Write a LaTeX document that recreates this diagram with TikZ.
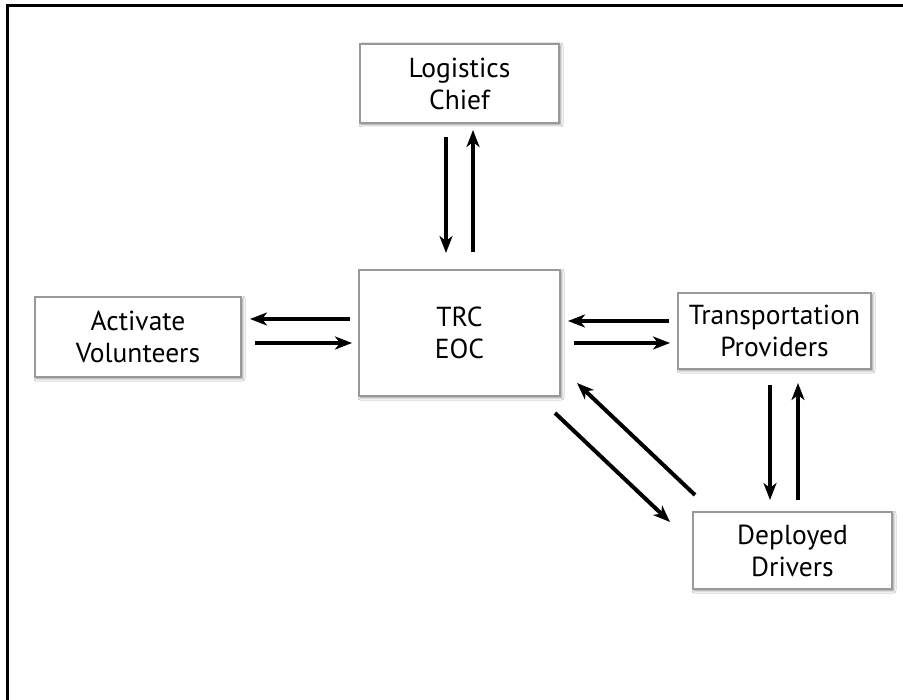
\documentclass[tikz,border=0pt]{standalone}
\usepackage{fontspec}
\setmainfont{PT Sans}
\usetikzlibrary{arrows.meta,shadows.blur}

\tikzset{
  box/.style={draw=gray!80, line width=1.2pt, fill=white, outer sep=0pt,
    inner sep=0pt, align=center, font=\fontsize{27.5}{32}\selectfont,
    blur shadow={shadow xshift=1.5pt, shadow yshift=-1.5pt,
      shadow blur radius=2.5pt, shadow opacity=50}},
  flow/.style={line width=4pt, -{Stealth[length=17pt,width=13pt,inset=5pt]}},
  frame/.style={line width=3pt}
}

\begin{document}
\begin{tikzpicture}[x=1pt,y=-1pt]
  \useasboundingbox (0,0) rectangle (903,700);
  \fill[white] (0,0) rectangle (903,700);

  % outer frame (top and left edges)
  \draw[frame] (903,6) -- (7,6) -- (7,700);

  % boxes
  \node[box, minimum width=199pt, minimum height=79pt]  (log) at (459.5,83.5) {Logistics\\Chief};
  \node[box, minimum width=201pt, minimum height=126pt] (trc) at (459.5,333) {TRC\\EOC};
  \node[box, minimum width=206pt, minimum height=80pt]  (act) at (138,337)   {Activate\\Volunteers};
  \node[box, minimum width=193pt, minimum height=76pt]  (trp) at (774.5,331) {Transportation\\Providers};
  \node[box, minimum width=199pt, minimum height=77pt]  (dep) at (792.5,550.5) {Deployed\\Drivers};

  % Logistics Chief <-> TRC EOC
  \draw[flow] ([xshift=-13.5pt,yshift=-14pt]log.south) -- ([xshift=-13.5pt,yshift=17pt]trc.north);
  \draw[flow] ([xshift=13.5pt,yshift=18pt]trc.north) -- ([xshift=13.5pt,yshift=-7pt]log.south);

  % TRC EOC <-> Activate Volunteers
  \draw[flow] ([xshift=-9pt,yshift=14pt]trc.west) -- ([xshift=9pt,yshift=18pt]act.east);
  \draw[flow] ([xshift=14pt,yshift=-6pt]act.east) -- ([xshift=-7pt,yshift=-10pt]trc.west);

  % TRC EOC <-> Transportation Providers
  \draw[flow] ([xshift=-9pt,yshift=10pt]trp.west) -- ([xshift=8pt,yshift=12pt]trc.east);
  \draw[flow] ([xshift=14pt,yshift=-10pt]trc.east) -- ([xshift=-8pt,yshift=-12pt]trp.west);

  % Transportation Providers <-> Deployed Drivers
  \draw[flow] ([xshift=-4.5pt,yshift=-16pt]trp.south) -- ([xshift=-22.5pt,yshift=12pt]dep.north);
  \draw[flow] ([xshift=5.5pt,yshift=12pt]dep.north) -- ([xshift=23.5pt,yshift=-14pt]trp.south);

  % TRC EOC <-> Deployed Drivers
  \draw[flow] ([xshift=-5pt,yshift=-17pt]trc.south east) -- ([xshift=-23pt,yshift=28.5pt]dep.west);
  \draw[flow] ([xshift=2pt,yshift=17pt]dep.north west) -- ([xshift=17pt,yshift=13pt]trc.south east);
\end{tikzpicture}
\end{document}
